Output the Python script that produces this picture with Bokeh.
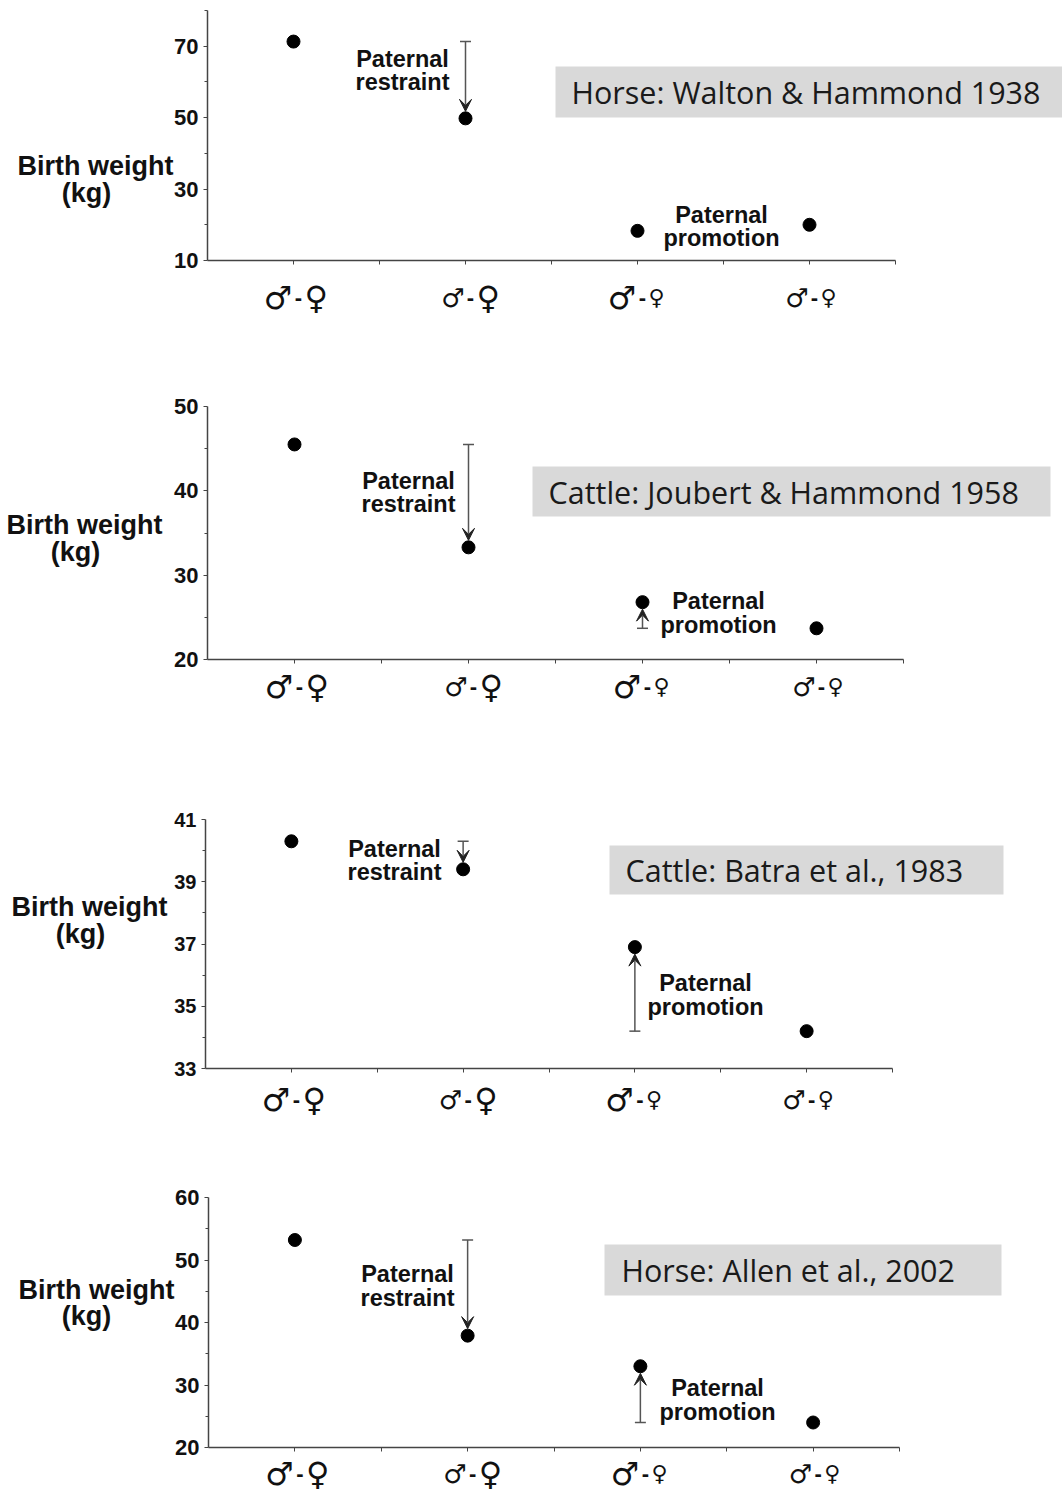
from bokeh.plotting import figure
from bokeh.models import Range1d, FixedTicker, Label, Arrow, VeeHead, TeeHead
from bokeh.layouts import column
from bokeh.embed import file_html
from bokeh.resources import INLINE

# ---------------- data ----------------
cross_male_size = ["large", "small", "large", "small"]    # sire breed size
cross_female_size = ["large", "large", "small", "small"]  # dam breed size
cat_x = [0.5, 1.5, 2.5, 3.5]
x_tick_marks = [0.5, 1, 1.5, 2, 2.5, 3, 3.5, 4]

titles = ["Horse: Walton & Hammond 1938",
          "Cattle: Joubert & Hammond 1958",
          "Cattle: Batra et al., 1983",
          "Horse: Allen et al., 2002"]

horse_walton_1938 = [71.3, 49.8, 18.3, 20.0]
cattle_joubert_1958 = [45.5, 33.3, 26.8, 23.7]
cattle_batra_1983 = [40.3, 39.4, 36.9, 34.2]
horse_allen_2002 = [53.2, 37.9, 33.0, 24.0]

y_limits = [(10, 80), (20, 50), (33, 41), (20, 60)]
y_major = [[10, 30, 50, 70], [20, 30, 40, 50], [33, 35, 37, 39, 41], [20, 30, 40, 50, 60]]
y_minor = [[20, 40, 60, 80], [25, 35, 45], [34, 36, 38, 40], [25, 35, 45, 55]]

label_restraint = ["Paternal", "restraint"]
label_promotion = ["Paternal", "promotion"]
y_title = ["Birth weight", "(kg)"]
MALE, FEMALE = "\u2642", "\u2640"

# ---------------- layout (page pixels) ----------------
layouts = [
    dict(top=0, bottom=380, ax=207, ax_end=895, ytop=10, ybot=260,
         box=(555, 1070, 66, 117), title_x=571,
         rest=(402, 58, 81), prom=(721, 214, 237),
         ylab=(95, 165, 86, 192), sym_base=37, tick_size="22px"),
    dict(top=380, bottom=790, ax=207, ax_end=903, ytop=406, ybot=659,
         box=(532, 1050, 466, 516), title_x=548,
         rest=(408, 480, 503), prom=(718, 600, 624),
         ylab=(84, 524, 75, 551), sym_base=27, tick_size="22px"),
    dict(top=790, bottom=1170, ax=205, ax_end=892, ytop=819, ybot=1068,
         box=(609, 1003, 845, 894), title_x=625,
         rest=(394, 848, 871), prom=(705, 982, 1006),
         ylab=(89, 906, 80, 933), sym_base=31, tick_size="20px"),
    dict(top=1170, bottom=1491, ax=208, ax_end=899, ytop=1197, ybot=1447,
         box=(604, 1001, 1244, 1295), title_x=621,
         rest=(407, 1273, 1297), prom=(717, 1387, 1411),
         ylab=(96, 1289, 86, 1315), sym_base=26, tick_size="22px"),
]

BOLD_FONT = "Liberation Sans"
INK = "#111111"
AXIS = "#444444"
ARROW = "#555555"
PAGE_W = 1062


def make_panel(values, title, ylim, majors, minors, L):
    ymin, ymax = ylim
    ppx = (L["ax_end"] - L["ax"]) / 4.0
    ppy = (L["ybot"] - L["ytop"]) / float(ymax - ymin)

    def fx(X):
        return (X - L["ax"]) / ppx

    def fy(Y):
        return ymax - (Y - L["ytop"]) / ppy

    H = L["bottom"] - L["top"]
    p = figure(width=PAGE_W, height=H, output_backend="svg", toolbar_location=None,
               x_range=Range1d(fx(0), fx(PAGE_W)),
               y_range=Range1d(fy(L["bottom"]), fy(L["top"])),
               min_border=0, min_border_left=0, min_border_right=0,
               min_border_top=0, min_border_bottom=0)
    p.outline_line_color = None
    p.grid.visible = False
    p.background_fill_color = "white"
    p.border_fill_color = "white"

    # x axis, fixed at the bottom of the value range
    xa = p.xaxis[0]
    xa.fixed_location = ymin
    xa.bounds = (0, 4)
    xa.ticker = FixedTicker(ticks=[], minor_ticks=x_tick_marks)
    xa.minor_tick_out = 4
    xa.minor_tick_in = 0
    xa.minor_tick_line_color = AXIS
    xa.major_tick_line_color = None
    xa.axis_line_color = AXIS
    xa.axis_line_width = 1.5

    # y axis, fixed at x = 0
    ya = p.yaxis[0]
    ya.fixed_location = 0
    ya.bounds = (ymin, ymax)
    ya.ticker = FixedTicker(ticks=majors, minor_ticks=minors)
    ya.major_tick_out = 4
    ya.major_tick_in = 0
    ya.minor_tick_out = 3
    ya.minor_tick_in = 0
    ya.axis_line_color = AXIS
    ya.axis_line_width = 1.5
    ya.major_tick_line_color = AXIS
    ya.minor_tick_line_color = AXIS
    ya.major_label_text_font = BOLD_FONT
    ya.major_label_text_font_style = "bold"
    ya.major_label_text_font_size = L["tick_size"]
    ya.major_label_text_color = INK
    ya.major_label_standoff = 5

    # title box
    bx0, bx1, by0, by1 = L["box"]
    p.quad(left=[fx(bx0)], right=[fx(bx1)], top=[fy(by0)], bottom=[fy(by1)],
           fill_color="#d9d9d9", line_color=None)
    p.add_layout(Label(x=fx(L["title_x"]), y=fy((by0 + by1) / 2.0), text=title,
                       text_font="Open Sans", text_font_size="30.5px",
                       text_color="#1a1a1a", text_align="left",
                       text_baseline="middle"))

    # arrows (drawn from the data values)
    r = 7.0 / ppy
    p.add_layout(Arrow(x_start=cat_x[1], y_start=values[0],
                       x_end=cat_x[1], y_end=values[1] + r,
                       start=TeeHead(size=11, line_color=ARROW, line_width=1.5),
                       end=VeeHead(size=12, fill_color="#222222", line_color="#222222"),
                       line_color=ARROW, line_width=1.5))
    if values[2] > values[3]:
        p.add_layout(Arrow(x_start=cat_x[2], y_start=values[3],
                           x_end=cat_x[2], y_end=values[2] - r,
                           start=TeeHead(size=11, line_color=ARROW, line_width=1.5),
                           end=VeeHead(size=12, fill_color="#222222", line_color="#222222"),
                           line_color=ARROW, line_width=1.5))

    # points
    p.scatter(x=cat_x, y=values, size=13, fill_color="black", line_color="black")

    # annotation texts
    rx, ry1, ry2 = L["rest"]
    for txt, yy in zip(label_restraint, (ry1, ry2)):
        p.add_layout(Label(x=fx(rx), y=fy(yy), text=txt, text_font=BOLD_FONT,
                           text_font_style="bold", text_font_size="23.5px",
                           text_color=INK, text_align="center", text_baseline="middle"))
    px_, py1, py2 = L["prom"]
    for txt, yy in zip(label_promotion, (py1, py2)):
        p.add_layout(Label(x=fx(px_), y=fy(yy), text=txt, text_font=BOLD_FONT,
                           text_font_style="bold", text_font_size="23.5px",
                           text_color=INK, text_align="center", text_baseline="middle"))

    # y title (horizontal, left of the axis)
    lx1, ly1, lx2, ly2 = L["ylab"]
    for txt, xx, yy in zip(y_title, (lx1, lx2), (ly1, ly2)):
        p.add_layout(Label(x=fx(xx), y=fy(yy), text=txt, text_font=BOLD_FONT,
                           text_font_style="bold", text_font_size="27px",
                           text_color=INK, text_align="center", text_baseline="middle"))

    # category labels: sire symbol - dam symbol, sized by breed size
    base_y = fy(L["ybot"] + L["sym_base"])
    for cx, ms, fs in zip(cat_x, cross_male_size, cross_female_size):
        p.add_layout(Label(x=cx, y=base_y, x_offset=-1, text=MALE,
                           text_font="DejaVu Sans", text_font_style="bold",
                           text_font_size="32px" if ms == "large" else "26px",
                           text_color=INK, text_align="right", text_baseline="alphabetic"))
        p.add_layout(Label(x=cx, y=base_y, x_offset=5, text="-",
                           text_font=BOLD_FONT, text_font_style="bold",
                           text_font_size="22px", text_color=INK,
                           text_align="center", text_baseline="alphabetic"))
        p.add_layout(Label(x=cx, y=base_y, x_offset=11, text=FEMALE,
                           text_font="DejaVu Sans",
                           text_font_size="32px" if fs == "large" else "22px",
                           text_color=INK, text_align="left", text_baseline="alphabetic"))
    return p


series = [horse_walton_1938, cattle_joubert_1958, cattle_batra_1983, horse_allen_2002]
figs = [make_panel(v, t, yl, ma, mi, L)
        for v, t, yl, ma, mi, L in zip(series, titles, y_limits, y_major, y_minor, layouts)]

page = column(*figs, spacing=0)
open("out.html", "w").write(file_html(page, INLINE))
